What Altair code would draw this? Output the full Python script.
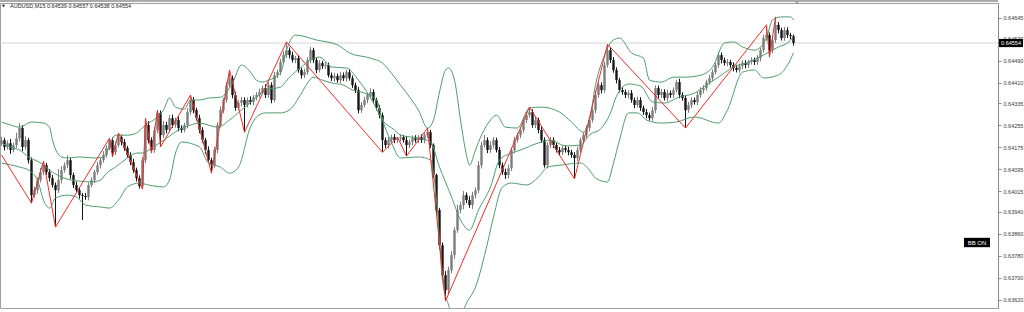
import altair as alt
import pandas as pd

# ---------------- data (prices in 1e-5 units) ----------------
first_open = 64190
closes = [
    64201, 64176, 64190, 64165, 64183, 64208, 64245, 64176, 64201, 64128,
    64001, 64019, 64056, 64085, 64110, 64085, 64063, 64038, 64019, 64056,
    64092, 64110, 64128, 64074, 64038, 64019, 64001, 63998, 63994, 64038,
    64056, 64085, 64110, 64128, 64147, 64172, 64201, 64157, 64183, 64212,
    64194, 64172, 64147, 64121, 64092, 64063, 64034, 64128, 64256, 64201,
    64165, 64238, 64300, 64219, 64256, 64238, 64281, 64256, 64274, 64245,
    64238, 64256, 64303, 64347, 64310, 64281, 64238, 64201, 64165, 64128,
    64110, 64165, 64256, 64310, 64347, 64401, 64426, 64365, 64318, 64336,
    64347, 64329, 64347, 64339, 64357, 64365, 64376, 64390, 64365, 64401,
    64347, 64437, 64448, 64485, 64510, 64528, 64510, 64492, 64499, 64456,
    64437, 64448, 64492, 64528, 64492, 64456, 64481, 64470, 64474, 64437,
    64426, 64434, 64419, 64437, 64426, 64448, 64426, 64401, 64383, 64310,
    64329, 64347, 64365, 64376, 64347, 64318, 64292, 64201, 64183, 64201,
    64212, 64201, 64208, 64212, 64201, 64183, 64194, 64208, 64201, 64212,
    64201, 64219, 64230, 64183, 64074, 63947, 63819, 63710, 63656, 63729,
    63783, 63874, 63947, 63965, 64001, 63983, 63965, 64001, 64019, 64110,
    64183, 64201, 64165, 64183, 64201, 64165, 64110, 64085, 64074, 64099,
    64165, 64201, 64219, 64238, 64274, 64292, 64303, 64256, 64274, 64238,
    64201, 64110, 64183, 64201, 64183, 64165, 64157, 64172, 64165, 64157,
    64147, 64136, 64165, 64201, 64219, 64245, 64274, 64310, 64365, 64401,
    64383, 64474, 64528, 64492, 64456, 64419, 64383, 64376, 64365, 64372,
    64347, 64329, 64347, 64318, 64303, 64292, 64281, 64310, 64390, 64365,
    64376, 64354, 64372, 64365, 64383, 64412, 64365, 64354, 64310, 64329,
    64347, 64339, 64365, 64383, 64390, 64412, 64426, 64448, 64474, 64510,
    64492, 64481, 64485, 64474, 64463, 64456, 64470, 64481, 64474, 64485,
    64492, 64485, 64499, 64528, 64572, 64583, 64528, 64565, 64620, 64601,
    64572, 64601, 64583, 64579, 64554,
]
wick_up = [
    12, 8, 10, 15, 9, 20, 18, 10, 14, 8,
    10, 12, 9, 15, 15, 8, 10, 12, 9, 40,
    14, 10, 18, 8, 9, 12, 10, 8, 11, 9,
    10, 8, 12, 9, 14, 10, 7, 10, 12, 15,
    9, 11, 8, 10, 12, 9, 10, 12, 25, 14,
    10, 12, 10, 9, 15, 11, 10, 13, 9, 12,
    10, 8, 14, 18, 11, 9, 12, 10, 8, 13,
    9, 12, 10, 14, 8, 11, 30, 10, 12, 9,
    11, 10, 9, 13, 8, 10, 12, 9, 14, 11,
    10, 12, 9, 11, 14, 30, 10, 12, 8, 11,
    9, 13, 10, 12, 9, 11, 10, 8, 12, 9,
    10, 12, 9, 11, 10, 8, 12, 10, 9, 11,
    10, 12, 9, 14, 10, 8, 11, 9, 10, 12,
    9, 11, 4, 10, 8, 12, 9, 10, 11, 8,
    10, 9, 15, 8, 6, 5, 8, 10, 15, 12,
    14, 10, 20, 12, 15, 10, 14, 12, 10, 15,
    12, 18, 10, 14, 12, 9, 11, 10, 12, 14,
    10, 12, 9, 11, 10, 12, 18, 10, 14, 9,
    11, 10, 9, 12, 10, 8, 11, 9, 10, 12,
    9, 10, 12, 9, 11, 10, 12, 9, 14, 11,
    10, 12, 22, 9, 11, 10, 8, 12, 9, 10,
    11, 9, 12, 10, 8, 11, 9, 12, 10, 9,
    11, 10, 12, 9, 10, 8, 12, 10, 9, 11,
    10, 9, 12, 10, 11, 9, 12, 10, 8, 11,
    10, 9, 11, 8, 10, 12, 9, 10, 11, 8,
    10, 9, 11, 10, 12, 37, 9, 12, 29, 10,
    9, 11, 10, 8, 6,
]
wick_dn = [
    10, 12, 9, 14, 8, 10, 12, 15, 10, 12,
    29, 10, 12, 9, 11, 10, 12, 9, 134, 10,
    12, 9, 10, 14, 11, 9, 12, 87, 10, 12,
    9, 11, 10, 12, 9, 10, 8, 17, 10, 9,
    12, 10, 9, 11, 10, 12, 9, 11, 10, 12,
    11, 10, 12, 43, 10, 12, 9, 11, 10, 12,
    10, 9, 12, 10, 11, 9, 12, 10, 14, 9,
    29, 10, 12, 9, 11, 10, 8, 12, 10, 9,
    12, 99, 10, 9, 11, 12, 10, 9, 11, 10,
    12, 9, 10, 11, 8, 10, 12, 9, 11, 10,
    12, 10, 9, 11, 10, 12, 9, 10, 11, 8,
    10, 12, 9, 11, 10, 12, 9, 10, 11, 12,
    10, 9, 12, 10, 11, 9, 12, 44, 10, 12,
    9, 11, 10, 12, 9, 40, 10, 12, 9, 11,
    10, 12, 9, 10, 12, 15, 14, 20, 40, 15,
    12, 14, 10, 12, 15, 11, 10, 14, 12, 10,
    12, 9, 11, 10, 12, 9, 11, 10, 14, 12,
    10, 12, 9, 11, 10, 12, 9, 10, 11, 12,
    10, 9, 12, 10, 11, 9, 12, 10, 9, 11,
    10, 76, 12, 9, 11, 10, 12, 9, 11, 10,
    12, 10, 9, 11, 10, 12, 9, 10, 11, 12,
    10, 12, 9, 11, 10, 12, 9, 10, 11, 12,
    10, 9, 12, 10, 11, 9, 12, 10, 65, 10,
    12, 9, 11, 10, 12, 9, 10, 11, 8, 10,
    12, 9, 11, 10, 12, 9, 10, 11, 12, 10,
    9, 11, 10, 12, 9, 10, 25, 11, 10, 12,
    9, 10, 11, 12, 10,
]

# Bollinger bands (bar index, price)
upper_bar = [0, 3, 6, 10, 14, 16, 17, 20, 22, 26,
             31, 34, 38, 42, 45, 48, 52, 54, 56, 58,
             61, 63, 66, 69, 73, 77, 80, 83, 85, 87,
             89, 93, 95, 97, 98, 105, 112, 116, 123, 127,
             131, 133, 136, 139, 142, 144, 146, 148, 149, 151,
             153, 155, 156, 158, 160, 163, 165, 168, 172, 176,
             180, 186, 190, 194, 196, 198, 201, 202, 204, 206,
             210, 214, 216, 220, 224, 228, 233, 237, 241, 244,
             247, 251, 255, 257, 260, 263, 264]
upper_px = [64267, 64256, 64248, 64267, 64263, 64248, 64201, 64140, 64136, 64140,
            64136, 64140, 64219, 64219, 64227, 64256, 64285, 64310, 64354, 64321,
            64314, 64347, 64347, 64354, 64357, 64409, 64474, 64448, 64419, 64412,
            64419, 64445, 64528, 64576, 64583, 64565, 64547, 64518, 64499, 64481,
            64430, 64401, 64358, 64310, 64245, 64274, 64376, 64456, 64463, 64419,
            64274, 64147, 64110, 64165, 64219, 64274, 64292, 64248, 64245, 64318,
            64321, 64303, 64267, 64230, 64274, 64401, 64510, 64536, 64565, 64572,
            64518, 64499, 64419, 64412, 64430, 64430, 64437, 64467, 64554, 64558,
            64540, 64528, 64572, 64638, 64649, 64649, 64638]
mid_bar = [0, 3, 6, 9, 13, 16, 20, 23, 26, 30,
           33, 35, 38, 42, 45, 47, 50, 55, 59, 63,
           66, 72, 76, 80, 84, 88, 93, 96, 100, 103,
           106, 110, 115, 119, 124, 127, 131, 133, 139, 143,
           146, 150, 153, 156, 159, 163, 166, 170, 173, 179,
           183, 188, 193, 196, 200, 203, 205, 209, 213, 217,
           221, 226, 231, 235, 240, 244, 249, 254, 259, 262,
           264]
mid_px = [64190, 64176, 64165, 64140, 64118, 64092, 64067, 64056, 64052, 64049,
          64056, 64081, 64103, 64136, 64154, 64154, 64172, 64208, 64238, 64256,
          64263, 64248, 64274, 64311, 64347, 64383, 64394, 64430, 64467, 64492,
          64503, 64467, 64463, 64419, 64336, 64274, 64238, 64219, 64208, 64194,
          64103, 63995, 63911, 63874, 63947, 64031, 64129, 64154, 64165, 64191,
          64201, 64180, 64183, 64220, 64245, 64300, 64361, 64405, 64398, 64340,
          64336, 64358, 64372, 64401, 64438, 64467, 64485, 64510, 64540, 64554,
          64576]
lower_bar = [0, 3, 6, 9, 12, 14, 16, 18, 22, 25,
             28, 33, 36, 39, 42, 46, 49, 54, 56, 58,
             60, 66, 69, 73, 76, 79, 83, 85, 88, 93,
             96, 100, 102, 104, 107, 110, 114, 117, 121, 125,
             127, 130, 133, 139, 143, 145, 147, 149, 151, 153,
             155, 158, 162, 164, 167, 170, 175, 179, 182, 187,
             193, 196, 198, 202, 204, 206, 209, 212, 215, 220,
             225, 231, 239, 242, 247, 251, 254, 259, 262, 264]
lower_px = [64118, 64111, 64103, 64092, 64056, 63983, 63954, 63991, 64001, 63994,
            63965, 63958, 63954, 63983, 64031, 64045, 64038, 64031, 64056, 64154,
            64194, 64176, 64118, 64103, 64081, 64103, 64249, 64285, 64300, 64300,
            64311, 64372, 64409, 64430, 64419, 64409, 64401, 64383, 64372, 64347,
            64274, 64191, 64136, 64140, 64129, 63983, 63693, 63602, 63554, 63562,
            63609, 63667, 63827, 63922, 64031, 64045, 64038, 64067, 64103, 64111,
            64118, 64092, 64063, 64049, 64118, 64201, 64300, 64300, 64274, 64263,
            64267, 64285, 64263, 64311, 64448, 64456, 64427, 64438, 64474, 64518]

# ZigZag pivots
zz_bar = [0, 10, 14, 18, 36, 37, 39, 47, 48, 50, 52, 53, 63, 70, 76, 81, 95,
          127, 132, 135, 142, 148, 176, 191, 202, 228, 255, 256, 258]
zz_px = [64147, 63972, 64125, 63885, 64208, 64140, 64227, 64023, 64281, 64154,
         64310, 64176, 64365, 64081, 64456, 64230, 64558, 64157, 64212, 64143,
         64245, 63616, 64321, 64060, 64550, 64245, 64620, 64503, 64649]

price_ticks = [0.64645, 0.64570, 0.64490, 0.64410, 0.64335, 0.64255, 0.64175,
               0.64095, 0.64015, 0.63940, 0.63860, 0.63780, 0.63700, 0.63620]
last_price = 0.64554
title_text = "AUDUSD,M15  0.64539 0.64557 0.64538 0.64554"
bb_label = "BB ON"

SCALE = 1e5

# ---------------- build tables ----------------
rows = []
prev = first_open
for i, c in enumerate(closes):
    o = prev
    rows.append(dict(
        t=i + 0.5, t0=i + 0.1, t1=i + 0.9,
        open=o / SCALE, close=c / SCALE,
        high=(max(o, c) + wick_up[i]) / SCALE,
        low=(min(o, c) - wick_dn[i]) / SCALE,
        dir="up" if c > o else "down",
    ))
    prev = c
cdf = pd.DataFrame(rows)

brows = []
for name, bars, prices in [("upper", upper_bar, upper_px),
                           ("middle", mid_bar, mid_px),
                           ("lower", lower_bar, lower_px)]:
    for b, p in zip(bars, prices):
        brows.append(dict(band=name, t=b + 0.5, price=p / SCALE))
bdf = pd.DataFrame(brows)
zdf = pd.DataFrame(dict(t=[b + 0.5 for b in zz_bar], price=[p / SCALE for p in zz_px]))
pdf = pd.DataFrame(dict(p=[last_price], s=[f"{last_price:.5f}"]))
one = pd.DataFrame(dict(s=[title_text], b=[bb_label]))

W, H = 998, 305
xs = alt.Scale(domain=[0, W / 3], nice=False, zero=False)
ys = alt.Scale(domain=[0.635908, 0.646995], nice=False, zero=False)

yaxis = alt.Axis(orient="right", values=price_ticks, format=".5f", title="",
                 labelFontSize=5.5, labelFont="Liberation Sans", labelColor="#3a3a3a",
                 tickSize=3, tickColor="#8a8a8a", domainColor="#8a8a8a",
                 labelPadding=2, grid=False, labelOverlap=False)


def Y(field):
    return alt.Y(field, scale=ys, axis=yaxis)


def X(field):
    return alt.X(field, scale=xs, axis=None)


color = alt.Color("dir:N", scale=alt.Scale(domain=["up", "down"], range=["#7c7c7c", "#151515"]),
                  legend=None)

price_line = alt.Chart(pdf).mark_rule(color="#d4d4d4", strokeWidth=1).encode(y=Y("p:Q"))

wicks = alt.Chart(cdf).mark_rule(strokeWidth=1).encode(
    x=X("t:Q"), y=Y("low:Q"), y2="high:Q", color=color)

bodies = alt.Chart(cdf).mark_rect().encode(
    x=X("t0:Q"), x2="t1:Q", y=Y("open:Q"), y2="close:Q", color=color)

bands = alt.Chart(bdf).mark_line(color="#4f9d6c", strokeWidth=1, interpolate="monotone",
                                 clip=True).encode(
    x=X("t:Q"), y=Y("price:Q"), detail="band:N")

zigzag = alt.Chart(zdf).mark_line(color="#f42a2a", strokeWidth=1, clip=True).encode(
    x=X("t:Q"), y=Y("price:Q"))

tag_box = alt.Chart(pdf).mark_point(shape="M-1,-0.34H1V0.34H-1Z", size=576, filled=True,
                                    color="#000000", opacity=1, strokeWidth=0).encode(
    x=alt.value(1011), y=Y("p:Q"))
tag_text = alt.Chart(pdf).mark_text(color="#ffffff", fontSize=5.5, font="Liberation Sans",
                                    baseline="middle", align="center").encode(
    x=alt.value(1011), y=Y("p:Q"), text="s:N")

bb_box = alt.Chart(one).mark_point(shape="M-1,-0.36H1V0.36H-1Z", size=676, filled=True,
                                   color="#000000", opacity=1, strokeWidth=0).encode(
    x=alt.value(977), y=alt.value(239.5))
bb_text = alt.Chart(one).mark_text(color="#ffffff", fontSize=6, font="Liberation Sans",
                                   baseline="middle", align="center").encode(
    x=alt.value(977), y=alt.value(239.5), text="b:N")

title = alt.Chart(one).mark_text(color="#222222", fontSize=5.5, font="Liberation Sans",
                                 baseline="middle", align="left").encode(
    x=alt.value(10), y=alt.value(3), text="s:N")
title_tri = alt.Chart(one).mark_point(shape="triangle-down", size=10, filled=True,
                                      color="#222222", opacity=1).encode(
    x=alt.value(3.5), y=alt.value(3))

top_bar = alt.Chart(one).mark_rect(color="#ababab").encode(
    x=alt.value(0), x2=alt.value(W), y=alt.value(-3), y2=alt.value(-1))
shift_mark = alt.Chart(one).mark_point(shape="triangle-down", size=14, filled=True,
                                       color="#9a9a9a", opacity=1).encode(
    x=alt.value(797), y=alt.value(0))

chart = alt.layer(
    price_line, wicks, bodies, bands, zigzag,
    tag_box, tag_text, bb_box, bb_text, title, title_tri, top_bar, shift_mark,
).properties(
    width=W, height=H,
    padding={"left": 0, "top": 3, "right": 26, "bottom": 4},
    autosize=alt.AutoSizeParams(type="none"),
    background="#ffffff",
).configure_view(stroke="#a0a0a0", strokeWidth=1)

chart.save("out.html", embed_options={"renderer": "svg", "actions": False})
